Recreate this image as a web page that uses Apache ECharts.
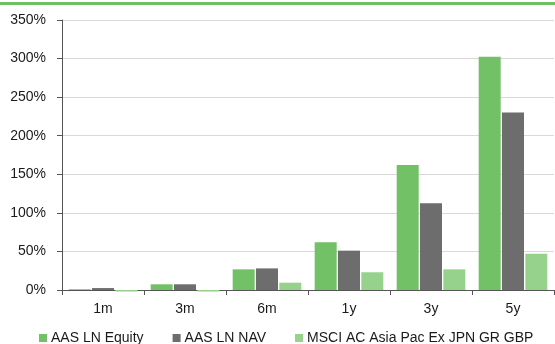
<!DOCTYPE html>
<html>
<head>
<meta charset="utf-8">
<script src="https://cdn.jsdelivr.net/npm/echarts@6/dist/echarts.min.js"></script>
<style>
  html, body { margin: 0; padding: 0; background: #fff; }
  #chart { width: 555px; height: 344px; }
</style>
</head>
<body>
<div id="chart"></div>
<script>
// Cumulative performance by period (%)
const periods = ['1m', '3m', '6m', '1y', '3y', '5y'];
const equity = [1, 7.4, 26.8, 61.8, 162, 302.5];
const nav = [2.5, 7.4, 28, 51, 112.4, 230];
const msci = [-2, -2, 9.5, 23, 26.8, 47];
const yTicks = [0, 50, 100, 150, 200, 250, 300, 350];

const seriesNames = ['AAS LN Equity', 'AAS LN NAV', 'MSCI AC Asia Pac Ex JPN GR GBP'];
const colors = ['#73C167', '#6D6D6D', '#97D28D'];
const font = 'Liberation Sans, Arial, sans-serif';

const chart = echarts.init(document.getElementById('chart'), null, { renderer: 'canvas' });

const dataSets = [equity, nav, msci];
chart.setOption({
  animation: false,
  color: colors,
  textStyle: { fontFamily: font },
  graphic: [{
    type: 'rect',
    shape: { x: 0, y: 2, width: 555, height: 3 },
    style: { fill: '#70BF63' }
  }],
  legend: {
    left: 34,
    top: 326,
    itemWidth: 8,
    itemHeight: 8,
    itemGap: 29,
    icon: 'rect',
    textStyle: { fontFamily: font, fontSize: 14, color: '#1a1a1a', padding: [0, 0, 0, -1] },
    data: seriesNames
  },
  grid: { left: 62, right: 1, top: 20, bottom: 54, containLabel: false },
  xAxis: {
    type: 'category',
    data: periods,
    axisLine: { lineStyle: { color: '#555', width: 1 } },
    axisTick: { show: true, length: 5, lineStyle: { color: '#555' } },
    axisLabel: { fontFamily: font, fontSize: 14, color: '#1a1a1a', margin: 12 },
    z: 1
  },
  yAxis: {
    type: 'value',
    min: yTicks[0],
    max: yTicks[yTicks.length - 1],
    interval: 50,
    axisLine: { show: true, lineStyle: { color: '#555' } },
    axisTick: { show: true, length: 5, lineStyle: { color: '#555' } },
    axisLabel: { fontFamily: font, fontSize: 14, color: '#1a1a1a', margin: 16, formatter: '{value}%' },
    splitLine: { lineStyle: { color: '#D9D9D9', width: 1 } }
  },
  series: seriesNames.map((name, i) => ({
    name: name,
    type: 'bar',
    data: dataSets[i],
    barWidth: 22,
    barGap: '6%',
    clip: false,
    z: 5,
    itemStyle: { color: colors[i] }
  }))
});
</script>
</body>
</html>
